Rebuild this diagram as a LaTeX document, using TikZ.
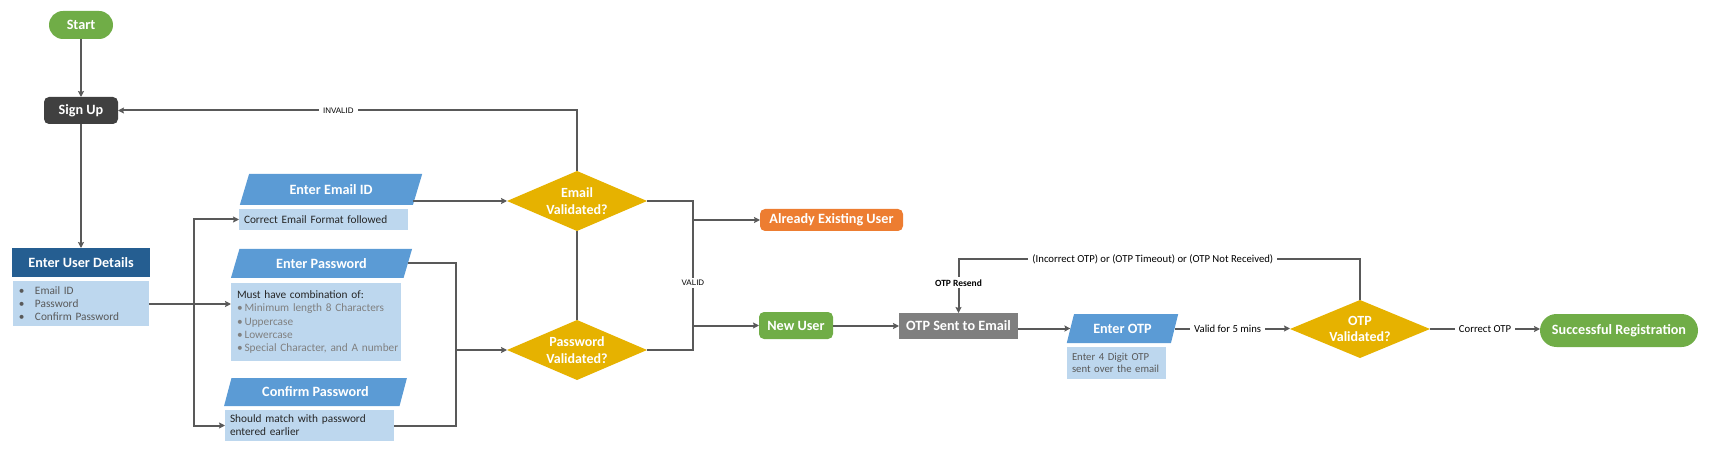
\documentclass[tikz,border=0pt]{standalone}
\usepackage{fontspec}
\setmainfont{Carlito}
\newfontfamily\arialf{Liberation Sans}
\usetikzlibrary{shapes.geometric,arrows.meta,calc}
\definecolor{cgreen}{HTML}{70AD47}
\definecolor{cdark}{HTML}{404040}
\definecolor{cnavy}{HTML}{255E91}
\definecolor{cblue}{HTML}{5B9BD5}
\definecolor{clight}{HTML}{BDD7EE}
\definecolor{cgold}{HTML}{E6B200}
\definecolor{corange}{HTML}{ED7D31}
\definecolor{cgray}{HTML}{7F7F7F}
\definecolor{cline}{HTML}{595959}
\definecolor{ctext}{HTML}{262626}
\definecolor{ctextg}{HTML}{595959}
\definecolor{ctextl}{HTML}{808080}
\newcommand\ubul{\makebox[16pt][l]{•}}
\tikzset{
  every node/.style={inner sep=0pt, outer sep=0pt},
  boxbase/.style={rectangle, text=white, font=\bfseries\fontsize{14.2}{16.5}\selectfont, align=center},
  term/.style={boxbase, fill=cgreen, rounded corners=14pt},
  procbox/.style={boxbase, rounded corners=5pt},
  para/.style={trapezium, trapezium left angle=65, trapezium right angle=115,
    trapezium stretches=true, fill=cblue, text=white, font=\bfseries\fontsize{14.2}{16.5}\selectfont},
  bodybox/.style={rectangle, fill=clight, align=left, inner xsep=5pt,
    font=\fontsize{11.3}{13.2}\selectfont},
  decision/.style={diamond, fill=cgold, minimum width=140pt},
  dtext/.style={text=white, align=center, font=\bfseries\fontsize{14}{16.7}\selectfont},
  conn/.style={draw=cline, line width=2pt},
  arr/.style={conn, -{Stealth[length=6pt,width=6pt,inset=1pt]}},
  lbl/.style={fill=white, text=black, inner xsep=4pt, inner ysep=2pt, font=\fontsize{10.7}{12}\selectfont},
  slbl/.style={fill=white, text=black, inner xsep=4pt, inner ysep=2pt, font=\arialf\fontsize{8}{10}\selectfont},
}
\begin{document}
\begin{tikzpicture}[x=1pt,y=-1pt]
\useasboundingbox (0,0) rectangle (1709,449);
% left column
\node[term, minimum width=64pt, minimum height=28pt] (start) at (81,25) {Start};
\node[procbox, fill=cdark, minimum width=74pt, minimum height=27pt] (signup) at (81,110.5) {Sign Up};
\node[boxbase, fill=cnavy, minimum width=138pt, minimum height=29pt] (udh) at (81,262.5) {Enter User Details};
\node[bodybox, text=ctextg, inner xsep=6pt, text width=124pt, minimum height=45pt, font=\fontsize{11.3}{13}\selectfont] (udb) at (81,303.5)
  {\ubul Email ID\\\ubul Password\\\ubul Confirm Password};
% inputs
\node[para, minimum width=183pt, minimum height=31pt] (emh) at (331,189.5) {Enter Email ID};
\node[bodybox, text=ctext, text width=159pt, minimum height=21pt] (emb) at (323.5,219.5) {Correct Email Format followed};
\node[para, minimum width=183pt, minimum height=29pt] (pwh) at (321.5,263.5) {Enter Password};
\node[bodybox, text=ctextl, inner xsep=6pt, text width=158pt, minimum height=78pt] (pwb) at (316,322)
  {{\color{ctext}Must have combination of:}\\\mbox{•\,Minimum length 8 Characters}\\•\,Uppercase\\•\,Lowercase\\\mbox{•\,Special Character, and A number}};
\node[para, minimum width=183pt, minimum height=28pt] (cfh) at (315.5,392) {Confirm Password};
\node[bodybox, text=ctext, text width=159pt, minimum height=31pt] (cfb) at (309.5,425.5) {Should match with password\\entered earlier};
% decisions
\node[decision, minimum height=60pt, label={[dtext]center:{Email\\Validated?}}] (emd) at (577,201) {};
\node[decision, minimum height=60pt, label={[dtext]center:{Password\\Validated?}}] (pwd) at (577,350) {};
\node[procbox, fill=corange, minimum width=143pt, minimum height=22pt] (aeu) at (831.5,220) {Already Existing User};
\node[procbox, fill=cgreen, minimum width=74pt, minimum height=27pt] (nu) at (796,325.5) {New User};
\node[boxbase, fill=cgray, minimum width=119pt, minimum height=26pt] (otp) at (958.5,326) {OTP Sent to Email};
\node[para, minimum width=112pt, minimum height=29pt] (eoh) at (1122.5,328.5) {Enter OTP};
\node[bodybox, text=ctextg, text width=89pt, minimum height=32pt, font=\fontsize{10.7}{12.7}\selectfont] (eob) at (1116.5,363) {Enter 4 Digit OTP\\\mbox{sent over the email}};
\node[decision, minimum height=58pt, label={[dtext]center:{OTP\\Validated?}}] (otd) at (1360,329) {};
\node[term, fill=cgreen, rounded corners=16.5pt, minimum width=158pt, minimum height=33pt] (succ) at (1619,330.5) {Successful Registration};
% junction coordinates
\coordinate (j1) at (194,304);
\coordinate (j2) at (456,350);
\coordinate (vt) at (693,201);
\coordinate (vb) at (693,350);
\coordinate (lp) at (959,259);
% connectors
\draw[arr] (start) -- (signup);
\draw[arr] (signup) -- (udh);
\draw[arr] (udb.east |- j1) -- (j1 -| pwb.west);
\draw[arr] (j1) |- (emb.west);
\draw[arr] (j1) |- (cfb.west);
\draw[arr] (emd.west -| emh.bottom right corner) -- (emd.west);
\draw[conn] (pwh.east) -| (j2);
\draw[conn] (cfb.east) -| (j2);
\draw[arr] (j2) -- (pwd.west);
\draw[arr] (emd.north) |- node[slbl, pos=0.76] {INVALID} (signup.east);
\draw[conn] (emd.south) -- (pwd.north);
\draw[conn] (emd.east) -- (vt) -- node[slbl, pos=0.55] {VALID} (vb) -- (pwd.east);
\draw[arr] (vt |- aeu.west) -- (aeu.west);
\draw[arr] (vt |- nu.west) -- (nu.west);
\draw[arr] (nu.east |- otp.west) -- (otp.west);
\draw[arr] (eoh.west -| otp.east) -- (eoh.west);
\draw[arr] (eoh.east) -- node[lbl, pos=0.46] {Valid for 5 mins} (eoh.east -| otd.west);
\draw[arr] (otd.north) |- node[lbl, pos=0.758] {(Incorrect OTP) or (OTP Timeout) or (OTP Not Received)} (otp.north |- lp)
  -- node[lbl, pos=0.44, font=\bfseries\fontsize{9.5}{11}\selectfont] {OTP Resend} (otp.north);
\draw[arr] (otd.east) -- node[lbl, pos=0.5] {Correct OTP} (otd.east -| succ.west);
\end{tikzpicture}
\end{document}
